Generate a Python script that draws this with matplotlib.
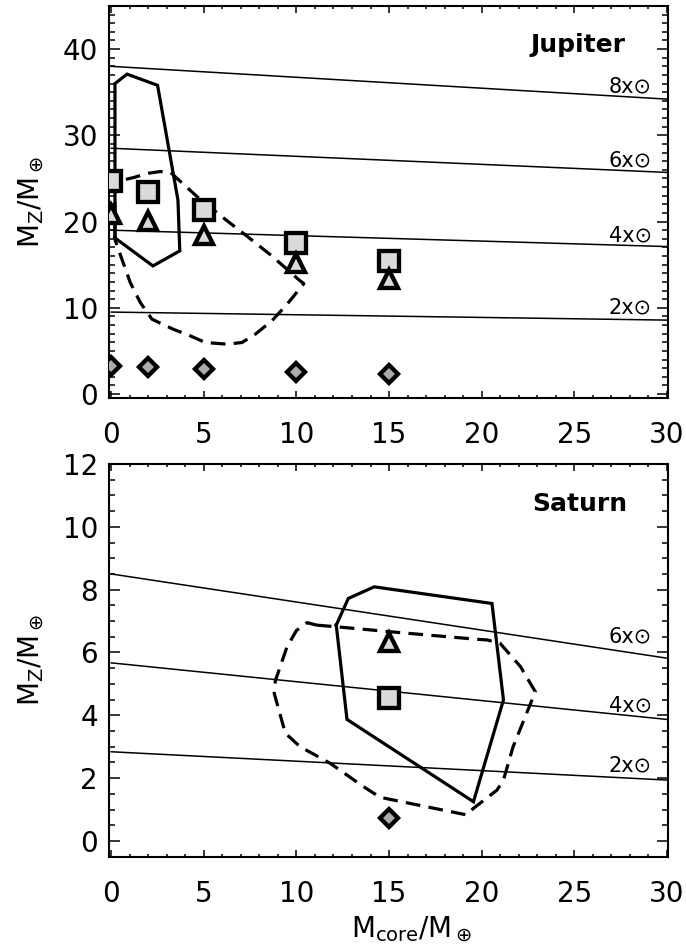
import matplotlib
matplotlib.use("Agg")
import matplotlib.pyplot as plt
from matplotlib.ticker import MultipleLocator
import numpy as np

plt.rcParams['font.family'] = ['DejaVu Sans']
plt.rcParams['mathtext.fontset'] = 'dejavusans'

# ---------------- data ----------------
# Jupiter: heavy-element mass for models with different core masses
core_jup = [0, 2, 5, 10, 15]
mz_jup_square = [24.7, 23.4, 21.3, 17.5, 15.4]
mz_jup_triangle = [20.9, 20.1, 18.4, 15.2, 13.3]
mz_jup_diamond = [3.2, 3.1, 2.95, 2.5, 2.3]

# Saturn models
core_sat = [15]
mz_sat_square = [4.55]
mz_sat_triangle = [6.35]
mz_sat_diamond = [0.72]

# Allowed regions (solid and dashed contours)
jup_solid_x = [0.2, 0.2, 0.85, 2.5, 3.6, 3.7, 2.25, 0.2]
jup_solid_y = [18.1, 36.0, 37.1, 35.8, 22.5, 16.6, 14.85, 18.1]

jup_dash_x = [0.2, 0.2, 1.2, 2.0, 2.65, 3.2, 3.63, 4.63, 6.07, 7.33, 8.68, 10.1,
              10.4, 9.49, 8.68, 7.78, 7.06, 6.25, 5.08, 4.27, 3.36, 2.2, 1.57,
              1.03, 0.58, 0.2]
jup_dash_y = [17.9, 24.6, 25.1, 25.6, 25.8, 25.7, 24.85, 22.9, 20.4, 18.3, 16.0,
              13.3, 12.8, 10.4, 8.5, 6.94, 5.97, 5.78, 5.97, 6.74, 7.5, 8.67,
              10.6, 12.9, 15.6, 17.9]

sat_solid_x = [12.15, 12.8, 14.2, 20.56, 21.18, 19.56, 12.73, 12.15]
sat_solid_y = [6.87, 7.72, 8.09, 7.56, 4.49, 1.25, 3.87, 6.87]

sat_dash_x = [11.1, 12.15, 15.07, 19.75, 20.3, 21.0, 22.1, 22.9, 22.35, 21.7,
              21.18, 20.83, 19.56, 19.2, 15.43, 14.52, 13.62, 11.83, 10.2, 9.4,
              8.8, 8.86, 9.49, 10.0, 10.57, 11.1]
sat_dash_y = [6.87, 6.82, 6.66, 6.42, 6.40, 6.29, 5.55, 4.75, 3.95, 3.0, 1.94,
              1.62, 1.04, 0.83, 1.28, 1.39, 1.73, 2.47, 3.0, 3.43, 4.7, 5.1,
              6.18, 6.7, 6.95, 6.87]

# Lines of constant enrichment relative to solar composition
jup_solar_n = [2, 4, 6, 8]
jup_solar_z0 = [9.5, 19.0, 28.5, 38.0]     # at Mcore = 0
jup_solar_z30 = [8.57, 17.1, 25.7, 34.2]   # at Mcore = 30

sat_solar_n = [2, 4, 6]
sat_solar_z0 = [2.84, 5.67, 8.5]
sat_solar_z30 = [1.94, 3.87, 5.82]

xticks = [0, 5, 10, 15, 20, 25, 30]

# ---------------- figure ----------------
W, H = 686, 949
fig = plt.figure(figsize=(W / 100, H / 100), dpi=100)

left_px, right_px = 108.5, 667.7
ax_top = fig.add_axes([left_px / W, 1 - 398.3 / H, (right_px - left_px) / W, (398.3 - 6) / H])
ax_bot = fig.add_axes([left_px / W, 1 - 856.7 / H, (right_px - left_px) / W, (856.7 - 464) / H])

light = '#dadada'
dgray = '#ababab'
edge_w = 3.1
dash_style = (0, (4.6, 2.6))


def style_axes(ax, ymaj, ymin_step):
    ax.set_xlim(-0.15, 30.05)
    ax.set_xticks(xticks)
    ax.xaxis.set_minor_locator(MultipleLocator(1))
    ax.yaxis.set_major_locator(MultipleLocator(ymaj))
    ax.yaxis.set_minor_locator(MultipleLocator(ymin_step))
    ax.tick_params(which='both', direction='in', top=True, right=True,
                   width=1.1, labelsize=20, colors='black')
    ax.tick_params(axis='x', which='major', length=5, pad=16.5)
    ax.tick_params(axis='x', which='minor', length=2.5)
    ax.tick_params(axis='y', which='major', length=8, pad=7.5)
    ax.tick_params(axis='y', which='minor', length=4)
    for sp in ax.spines.values():
        sp.set_linewidth(1.5)


def solar_lines(ax, n, z0, z30, offsets):
    xs = np.array([0.0, 30.0])
    for k, a, b, off in zip(n, z0, z30, offsets):
        ax.plot(xs, [a, b], color='black', lw=1.1, zorder=2)
        xl = 29.2
        yl = a + (b - a) * xl / 30.0
        ax.annotate(f"{k}x\u2299", xy=(xl, yl), xytext=(0, off),
                    textcoords='offset points', ha='right', va='baseline',
                    fontsize=15, zorder=3)


def markers(ax, x, sq, tri, dia):
    ax.plot(x, sq, ls='none', marker='s', ms=13.8, mfc=light, mec='black',
            mew=edge_w, zorder=6)
    ax.plot(x, tri, ls='none', marker='^', ms=13.0, mfc=light, mec='black',
            mew=edge_w, zorder=6)
    ax.plot(x, dia, ls='none', marker='D', ms=9.0, mfc=dgray, mec='black',
            mew=edge_w, zorder=6)


# ---- Jupiter panel ----
style_axes(ax_top, 10, 1)
ax_top.set_ylim(-0.5, 45)
solar_lines(ax_top, jup_solar_n, jup_solar_z0, jup_solar_z30, [4.3, 3.6, 3.9, 4.5])
ax_top.plot(jup_solid_x, jup_solid_y, color='black', lw=2.3, zorder=4,
            solid_joinstyle='miter')
ax_top.plot(jup_dash_x, jup_dash_y, color='black', lw=2.3, ls=dash_style, zorder=4)
markers(ax_top, core_jup, mz_jup_square, mz_jup_triangle, mz_jup_diamond)
ax_top.text(27.75, 39.7, "Jupiter", ha='right', va='baseline', fontsize=18,
            fontweight='bold')

# ---- Saturn panel ----
style_axes(ax_bot, 2, 0.5)
ax_bot.set_ylim(-0.5, 12)
solar_lines(ax_bot, sat_solar_n, sat_solar_z0, sat_solar_z30, [5.8, 4.3, 10.0])
ax_bot.plot(sat_solid_x, sat_solid_y, color='black', lw=2.3, zorder=4,
            solid_joinstyle='miter')
ax_bot.plot(sat_dash_x, sat_dash_y, color='black', lw=2.3, ls=dash_style, zorder=4)
markers(ax_bot, core_sat, mz_sat_square, mz_sat_triangle, mz_sat_diamond)
ax_bot.text(27.86, 10.5, "Saturn", ha='right', va='baseline', fontsize=18,
            fontweight='bold')

# ---- axis titles ----
ylab = r"$\mathregular{M_Z/M_\oplus}$"
fig.text(31 / W, 1 - 202 / H, ylab, rotation=90, ha='center', va='center', fontsize=20)
fig.text(31 / W, 1 - 660 / H, ylab, rotation=90, ha='center', va='center', fontsize=20)
fig.text(412 / W, 1 - 937 / H, r"$\mathregular{M_{core}/M_\oplus}$",
         ha='center', va='baseline', fontsize=20)

fig.savefig("out.png", dpi=100)
